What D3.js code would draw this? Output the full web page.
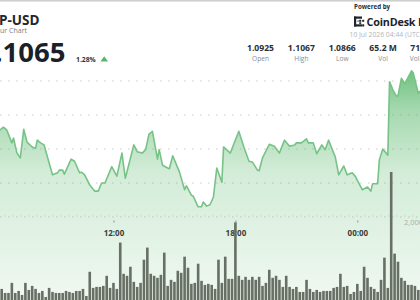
<!DOCTYPE html>
<html><head><meta charset="utf-8">
<script src="https://cdn.jsdelivr.net/npm/d3@7"></script>
<style>
html,body{margin:0;padding:0;background:#fff;overflow:hidden}
svg{display:block}
text{font-family:"Open Sans",Roboto,"Liberation Sans",sans-serif}
</style></head><body>
<svg id="c" width="420" height="300"></svg>
<script>
// ---- data ----
const pairName = "XRP-USD";
const chartSubtitle = "24 Hour Chart";
const lastPrice = "1.1065";
const changePct = "1.28%";
const poweredBy = "Powered by";
const brandName = "CoinDesk Data";
const stampText = "10 Jul 2026 04:44 (UTC)";
const statValues = ["1.0925", "1.1067", "1.0866", "65.2 M", "71.7 M"];
const statLabels = ["Open", "High", "Low", "Vol", "Vol (USD)"];

const startTime = new Date(2026, 6, 9, 6, 25);
const endTime = new Date(2026, 6, 10, 3, 5);

// price series: minutes after 06:25, price
const priceOffsetsMin = [-10,0,10,20,35,40,50,60,70,80,95,105,110,120,130,155,170,175,185,190,210,220,235,240,250,265,280,290,300,310,330,345,360,370,395,405,420,430,440,450,465,470,480,495,500,510,530,545,550,565,570,585,595,600,610,620,630,640,655,660,680,705,720,735,745,760,765,775,795,810,825,840,855,870,875,890,905,910,925,935,950,960,970,990,1000,1015,1025,1040,1050,1055,1070,1085,1095,1100,1115,1120,1130,1145,1150,1160,1170,1175,1185,1195,1215,1220,1235,1250,1265];
const priceValues = [1.0975,1.0978,1.0982,1.0978,1.0959,1.0966,1.0944,1.0937,1.0979,1.0960,1.0953,1.0951,1.0963,1.0959,1.0956,1.0912,1.0915,1.0919,1.0919,1.0913,1.0935,1.0932,1.0915,1.0916,1.0912,1.0897,1.0888,1.0888,1.0900,1.0900,1.0924,1.0910,1.0944,1.0907,1.0956,1.0946,1.0944,1.0949,1.0972,1.0976,1.0935,1.0949,1.0926,1.0922,1.0921,1.0940,1.0916,1.0890,1.0896,1.0882,1.0881,1.0865,1.0865,1.0872,1.0866,1.0868,1.0879,1.0922,1.0901,1.0953,1.0944,1.0976,1.0953,1.0932,1.0931,1.0919,1.0918,1.0937,1.0957,1.0954,1.0944,1.0963,1.0954,1.0956,1.0959,1.0959,1.0965,1.0959,1.0959,1.0943,1.0956,1.0949,1.0963,1.0938,1.0912,1.0925,1.0912,1.0915,1.0909,1.0904,1.0890,1.0894,1.0888,1.0899,1.0899,1.0934,1.0950,1.0941,1.1049,1.1037,1.1028,1.1028,1.1054,1.1046,1.1065,1.1062,1.1032,1.1040,1.1058];

// volume bars: 10-minute bars starting 06:20, volume in thousands
const volumeStart = new Date(2026, 6, 9, 6, 20);
const volumeStepMin = 10;
const volumesK = [888,264,168,168,408,168,216,120,408,240,336,264,168,216,72,288,192,168,168,168,216,192,168,216,216,264,96,672,288,312,312,336,576,288,408,264,1368,624,576,792,432,312,408,960,1248,624,576,528,600,1128,336,480,432,696,648,1032,768,384,408,864,456,360,384,360,264,960,408,1032,504,504,1848,576,480,552,480,552,480,552,336,408,720,528,576,480,312,576,312,264,312,192,192,480,264,192,240,192,216,216,216,288,312,624,312,336,144,192,384,216,792,528,312,264,192,480,1008,288,3048,1104,912,528,456,360,360,336,240,456];

const priceGridTicks = [1.085, 1.09, 1.095, 1.1, 1.105];
const volumeGridTicks = [2000000];

// ---- drawing ----
const W = 420, H = 300;
const svg = d3.select("#c");

const x = d3.scaleTime().domain([startTime, endTime]).range([0, W]);
const y = d3.scaleLinear().domain([1.085, 1.105]).range([217, 81]);
const yv = d3.scaleLinear().domain([0, 2000000]).range([300, 216]);

const priceData = priceOffsetsMin.map((m, i) => ({t: d3.timeMinute.offset(startTime, m), p: priceValues[i]}));
const volData = volumesK.map((v, i) => ({t: d3.timeMinute.offset(volumeStart, i * volumeStepMin), v: v * 1000}));

// gradient
const defs = svg.append("defs");
const grad = defs.append("linearGradient").attr("id", "ag")
  .attr("gradientUnits", "userSpaceOnUse").attr("x1", 0).attr("x2", 0).attr("y1", 68).attr("y2", 300);
[[0, 0.9], [0.18, 0.55], [0.45, 0.27], [1, 0.09]].forEach(([o, a]) =>
  grad.append("stop").attr("offset", o).attr("stop-color", "#5cb96e").attr("stop-opacity", a));

// top border
svg.append("rect").attr("x", 0).attr("y", 0).attr("width", W).attr("height", 1.6).attr("fill", "#cfcfcf");

// price gridlines
svg.append("g").selectAll("line").data(priceGridTicks).join("line")
  .attr("x1", 0).attr("x2", W).attr("y1", d => y(d)).attr("y2", d => y(d))
  .attr("stroke", "#c9cec9").attr("stroke-width", 1).attr("stroke-dasharray", "1.6,6.4");

// area + line
svg.append("path").datum(priceData)
  .attr("d", d3.area().x(d => x(d.t)).y0(H).y1(d => y(d.p)))
  .attr("fill", "url(#ag)");
svg.append("path").datum(priceData)
  .attr("d", d3.line().x(d => x(d.t)).y(d => y(d.p)))
  .attr("fill", "none").attr("stroke", "#77c287").attr("stroke-width", 1.6).attr("stroke-linejoin", "round");

// volume gridline + label
svg.append("g").selectAll("line").data(volumeGridTicks).join("line")
  .attr("x1", 0).attr("x2", W).attr("y1", d => yv(d)).attr("y2", d => yv(d))
  .attr("stroke", "#c9cec9").attr("stroke-width", 1).attr("stroke-dasharray", "1.6,6.4").attr("stroke-dashoffset", 4);
svg.append("g").selectAll("text").data(volumeGridTicks).join("text")
  .attr("x", 404).attr("y", d => yv(d) + 9)
  .attr("font-size", 7.5).attr("fill", "#a9aea9").text(d => d3.format(",")(d));

// time axis
const xAxis = d3.axisBottom(x).ticks(d3.timeHour.every(6)).tickFormat(d3.timeFormat("%H:%M"))
  .tickSize(2).tickPadding(8);
const gx = svg.append("g").attr("transform", "translate(0,220.5)").call(xAxis);
gx.select(".domain").remove();
gx.selectAll(".tick line").attr("stroke", "#777").attr("stroke-width", 0.8);
gx.selectAll(".tick text").attr("font-size", 8).attr("font-weight", 700).attr("fill", "#3a3d3a")
  .attr("font-family", "\"Open Sans\",Roboto,sans-serif");

// volume bars
const bw = 2.6;
svg.append("g").selectAll("rect").data(volData).join("rect")
  .attr("x", d => x(d.t) - bw / 2).attr("width", bw)
  .attr("y", d => yv(d.v)).attr("height", d => H - yv(d.v))
  .attr("fill", "#686f65");

// ---- header ----
svg.append("text").attr("x", 39.5).attr("y", 25).attr("text-anchor", "end")
  .attr("font-size", 13.5).attr("font-weight", 700).attr("fill", "#22262e").text(pairName);
svg.append("text").attr("x", 27).attr("y", 33).attr("text-anchor", "end")
  .attr("font-size", 7).attr("fill", "#7a7d82").text(chartSubtitle);
svg.append("text").attr("x", 65.5).attr("y", 62).attr("text-anchor", "end")
  .attr("font-size", 27.5).attr("font-weight", 700).attr("fill", "#1b1f27").text(lastPrice);
svg.append("text").attr("x", 76).attr("y", 61.5)
  .attr("font-size", 6.8).attr("font-weight", 700).attr("fill", "#30343a").text(changePct);
svg.append("path").attr("d", "M100.5,61.5 L104.2,56.3 L108,61.5 Z").attr("fill", "#57b567");

svg.append("text").attr("x", 354).attr("y", 8.5)
  .attr("font-size", 6.2).attr("font-weight", 700).attr("fill", "#2a2d33").text(poweredBy);
// logo mark
const logo = svg.append("g").attr("fill", "#1f232b");
[[354,16.5,2.2,10],[354,16.5,8,2.2],[354,24.3,8,2.2],[359.2,19.8,2,2],[359.2,22.3,2,1.6],[362.2,19.8,2,2],[362.2,24.3,2,2.2],[357.5,20.5,1.2,1.2]]
  .forEach(r => logo.append("rect").attr("x", r[0]).attr("y", r[1]).attr("width", r[2]).attr("height", r[3]));
svg.append("text").attr("x", 366.5).attr("y", 26)
  .attr("font-size", 10.8).attr("font-weight", 700).attr("fill", "#1f232b").attr("letter-spacing", -0.2).text(brandName);
svg.append("text").attr("x", 349.5).attr("y", 37)
  .attr("font-size", 6.8).attr("fill", "#b3b5b8").text(stampText);

const statX = d3.scalePoint().domain(d3.range(statValues.length)).range([260.5, 424]);
svg.append("g").selectAll("text").data(statValues).join("text")
  .attr("x", (d, i) => statX(i)).attr("y", 50.5).attr("text-anchor", "middle")
  .attr("font-size", 8.6).attr("font-weight", 700).attr("fill", "#2a2e36").text(d => d);
svg.append("g").selectAll("text").data(statLabels).join("text")
  .attr("x", (d, i) => statX(i)).attr("y", 61).attr("text-anchor", "middle")
  .attr("font-size", 6.6).attr("fill", "#8a8d92").text(d => d);
</script>
</body></html>
